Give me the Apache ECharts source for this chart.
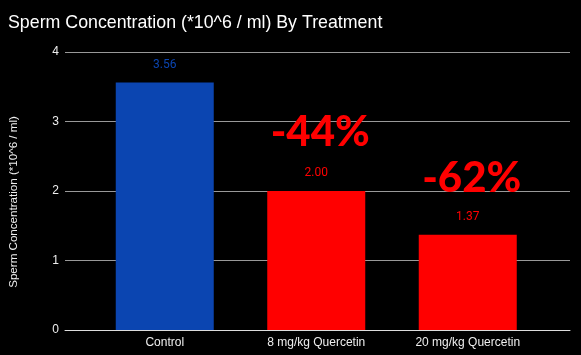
<!DOCTYPE html>
<html><head><meta charset="utf-8">
<script src="https://cdn.jsdelivr.net/npm/echarts@6/dist/echarts.min.js"></script>
<style>html,body{margin:0;padding:0;background:#000}#c{width:581px;height:355px}</style>
</head><body><div id="c"></div>
<script>
const categories = ['Control', '8 mg/kg Quercetin', '20 mg/kg Quercetin'];
const values = [3.56, 2.00, 1.37];
const barColors = ['#0b45b1', '#ff0000', '#ff0000'];
const yTicks = [0, 1, 2, 3, 4];
const annotations = [
  { label: '-44%', category: '8 mg/kg Quercetin', value: 2.86 },
  { label: '-62%', category: '20 mg/kg Quercetin', value: 2.2 }
];
const chart = echarts.init(document.getElementById('c'));
const yMin = yTicks[0], yMax = yTicks[yTicks.length - 1];
chart.setOption({
  backgroundColor: '#000',
  animation: false,
  title: {
    text: 'Sperm Concentration (*10^6 / ml) By Treatment',
    left: 3, top: 9,
    textStyle: { color: '#fff', fontFamily: 'Liberation Sans', fontSize: 17.8, fontWeight: 'normal' }
  },
  grid: [
    { left: 63, right: 11, top: 52, bottom: 25 },
    { left: 89, right: 37.5, top: 52, bottom: 25 }
  ],
  xAxis: [
    { gridIndex: 0, type: 'value', min: 0, max: 1, show: true,
      axisLine: { show: true, onZero: false, lineStyle: { color: '#ddd', width: 1 } },
      axisTick: { show: false }, axisLabel: { show: false }, splitLine: { show: false } },
    { gridIndex: 1, type: 'category', data: categories,
      axisLine: { show: false }, axisTick: { show: false },
      axisLabel: { color: '#eee', fontFamily: 'Liberation Sans', fontSize: 12, margin: 7 } }
  ],
  yAxis: [
    { gridIndex: 0, type: 'value', min: yMin, max: yMax, interval: 1,
      name: 'Sperm Concentration (*10^6 / ml)', nameLocation: 'middle', nameGap: 45,
      nameTextStyle: { color: '#eee', fontFamily: 'Liberation Sans', fontSize: 11.6, padding: [0, 22, 0, 0] },
      axisLine: { show: false }, axisTick: { show: false },
      axisLabel: { color: '#eee', fontFamily: 'Liberation Sans', fontSize: 12, margin: 6 },
      splitLine: { lineStyle: { color: '#999', width: 1 } } },
    { gridIndex: 1, type: 'value', min: yMin, max: yMax, interval: 1, show: false,
      splitLine: { show: false } }
  ],
  series: [{
    type: 'bar', xAxisIndex: 1, yAxisIndex: 1,
    barWidth: 98,
    data: values.map((v, i) => ({
      value: v,
      itemStyle: { color: barColors[i] },
      label: { color: barColors[i] }
    })),
    label: {
      show: true, position: 'top', distance: 12,
      fontFamily: 'Roboto', fontSize: 12,
      formatter: p => p.value.toFixed(2)
    },
    markPoint: {
      symbol: 'circle', symbolSize: 0,
      data: annotations.map(a => ({
        coord: [a.category, a.value],
        label: {
          show: true, position: 'inside', formatter: a.label, offset: [4, 1],
          color: '#ff0000', fontFamily: 'Lato', fontWeight: 900, fontSize: 42
        }
      }))
    }
  }]
});
</script></body></html>
